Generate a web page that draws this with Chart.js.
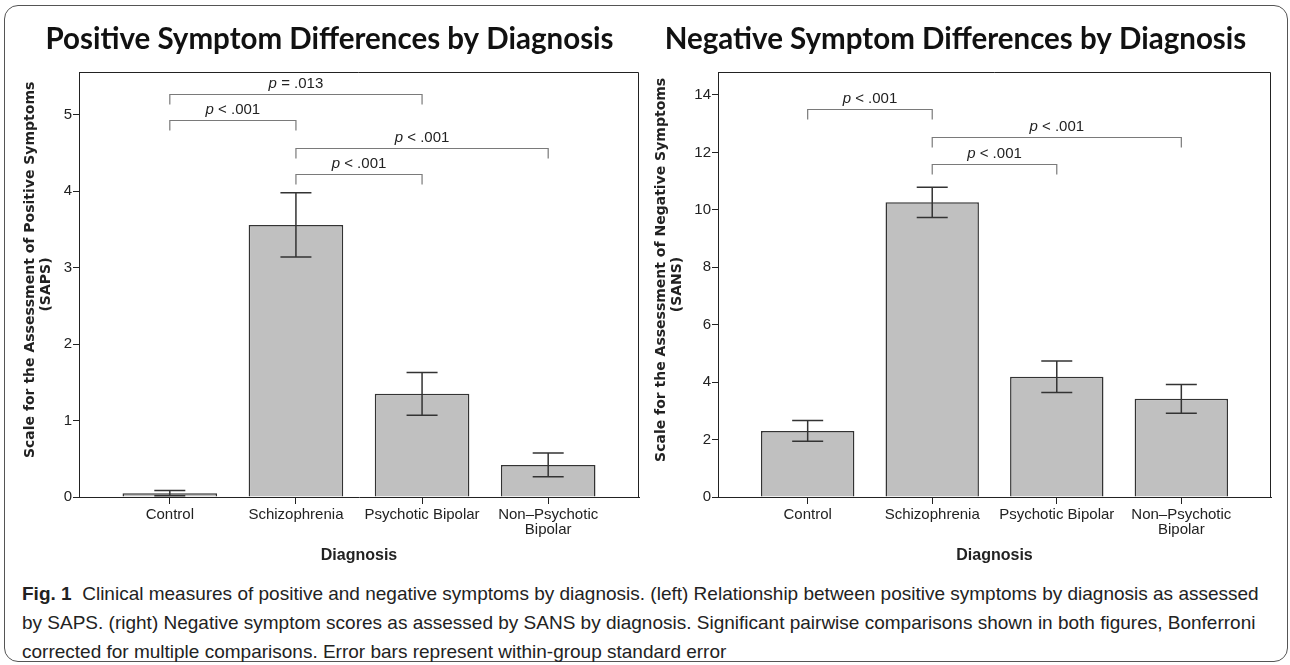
<!DOCTYPE html>
<html>
<head>
<meta charset="utf-8">
<script src="https://cdn.jsdelivr.net/npm/chart.js@4.4.1/dist/chart.umd.min.js"></script>
<style>
  html, body { margin: 0; padding: 0; background: #fff; }
  body { width: 1290px; height: 665px; position: relative; overflow: hidden; }
  .frame {
    position: absolute; left: 4px; top: 5px; width: 1284px; height: 657px;
    box-sizing: border-box; border: 1.5px solid #555; border-radius: 14px;
  }
  canvas { position: absolute; top: 0; }
  #posChart { left: 0; }
  #negChart { left: 640px; }
  .caption {
    position: absolute; left: 22px; top: 579px;
    font-family: "Liberation Sans", Arial, sans-serif;
    font-size: 19px; line-height: 29px; color: #222; white-space: nowrap;
  }
</style>
</head>
<body>
<div class="frame"></div>
<canvas id="posChart" width="645" height="569"></canvas>
<canvas id="negChart" width="640" height="569"></canvas>
<div class="caption">
  <b>Fig. 1</b>&nbsp; Clinical measures of positive and negative symptoms by diagnosis. (left) Relationship between positive symptoms by diagnosis as assessed<br>
  by SAPS. (right) Negative symptom scores as assessed by SANS by diagnosis. Significant pairwise comparisons shown in both figures, Bonferroni<br>
  corrected for multiple comparisons. Error bars represent within-group standard error
</div>

<script>
/* ================= DATA ================= */

const diagnoses = ["Control", "Schizophrenia", "Psychotic Bipolar", ["Non–Psychotic", "Bipolar"]];

// positive symptoms (SAPS): mean and standard error
const posMeans = [0.05, 3.56, 1.35, 0.42];
const posErr = [0.035, 0.42, 0.28, 0.155];
const posTicks = [0, 1, 2, 3, 4, 5];
const posMax = 5.56;

// negative symptoms (SANS): mean and standard error
const negMeans = [2.30, 10.26, 4.19, 3.42];
const negErr = [0.36, 0.53, 0.55, 0.50];
const negTicks = [0, 2, 4, 6, 8, 10, 12, 14];
const negMax = 14.8;

// pairwise comparison brackets
const posBracketFrom = [0, 0, 1, 1];
const posBracketTo = [2, 1, 3, 2];
const posBracketLevel = [5.27, 4.93, 4.57, 4.23];
const posBracketText = ["= .013", "< .001", "< .001", "< .001"];

const negBracketFrom = [0, 1, 1];
const negBracketTo = [1, 3, 2];
const negBracketLevel = [13.5, 12.55, 11.6];
const negBracketText = ["< .001", "< .001", "< .001"];

/* ================= STYLE ================= */

const tickFont = "'Liberation Sans', Arial, sans-serif";
const axisTitleFont = "'DejaVu Sans', sans-serif";
const ink = "#222";
const lead = "\u00a0".repeat(6); // nudges the long y title up a little, like the original

/* ================= EXTRAS PLUGIN (frame, error bars, brackets) ================= */

function makeExtras(means, errs, bFrom, bTo, bLevel, bText) {
    return {
        id: "extras",
        afterDatasetsDraw(chart) {
            const ctx = chart.ctx;
            const xs = chart.scales.x;
            const ys = chart.scales.y;
            const a = chart.chartArea;

            ctx.save();

            // top + right frame of the plot box
            ctx.strokeStyle = ink;
            ctx.lineWidth = 1;
            ctx.beginPath();
            ctx.moveTo(a.left, a.top + 0.5);
            ctx.lineTo(a.right - 0.5, a.top + 0.5);
            ctx.lineTo(a.right - 0.5, a.bottom);
            ctx.stroke();

            // error bars
            ctx.strokeStyle = "#333";
            ctx.lineWidth = 1.5;
            means.forEach((m, i) => {
                const px = xs.getPixelForValue(i);
                const top = ys.getPixelForValue(m + errs[i]);
                const bot = ys.getPixelForValue(Math.max(0, m - errs[i]));
                ctx.beginPath();
                ctx.moveTo(px, top);
                ctx.lineTo(px, bot);
                ctx.moveTo(px - 15.5, top);
                ctx.lineTo(px + 15.5, top);
                ctx.moveTo(px - 15.5, bot);
                ctx.lineTo(px + 15.5, bot);
                ctx.stroke();
            });

            // significance brackets
            bFrom.forEach((f, i) => {
                const xl = xs.getPixelForValue(f);
                const xr = xs.getPixelForValue(bTo[i]);
                const yl = Math.round(ys.getPixelForValue(bLevel[i])) + 0.5;

                ctx.strokeStyle = "#7a7a7a";
                ctx.lineWidth = 1.2;
                ctx.beginPath();
                ctx.moveTo(xl, yl + 10);
                ctx.lineTo(xl, yl);
                ctx.lineTo(xr, yl);
                ctx.lineTo(xr, yl + 10);
                ctx.stroke();

                const italic = "italic 15px " + tickFont;
                const plain = "15px " + tickFont;
                const rest = " " + bText[i];
                ctx.font = italic;
                const w1 = ctx.measureText("p").width;
                ctx.font = plain;
                const w2 = ctx.measureText(rest).width;
                const start = (xl + xr) / 2 - (w1 + w2) / 2;

                ctx.fillStyle = ink;
                ctx.textBaseline = "middle";
                ctx.textAlign = "left";
                ctx.font = italic;
                ctx.fillText("p", start, yl - 11);
                ctx.font = plain;
                ctx.fillText(rest, start + w1, yl - 11);
            });

            ctx.restore();
        }
    };
}

/* ================= CHART BUILDER ================= */

function buildChart(canvasId, cfg) {
    return new Chart(document.getElementById(canvasId), {
        type: "bar",
        data: {
            datasets: [{
                data: cfg.means.map((v, i) => ({ x: i, y: v })),
                backgroundColor: "#c0c0c0",
                borderColor: "#333",
                borderWidth: 1.5,
                barPercentage: 0.75,
                categoryPercentage: 1
            }]
        },
        options: {
            responsive: false,
            animation: false,
            devicePixelRatio: 1,
            layout: { padding: { top: 0, right: cfg.padRight, bottom: 0, left: cfg.padLeft } },
            plugins: {
                legend: { display: false },
                tooltip: { enabled: false },
                title: {
                    display: true,
                    text: cfg.title,
                    color: "#111",
                    font: { family: "Lato, 'Open Sans', sans-serif", size: 29.5, weight: "bold", lineHeight: 1.2 },
                    padding: { top: 22, bottom: 14.6 }
                }
            },
            scales: {
                x: {
                    type: "linear",
                    offset: false,
                    min: -0.72,
                    max: 3.72,
                    afterBuildTicks: s => { s.ticks = diagnoses.map((_, i) => ({ value: i })); },
                    afterFit: s => { s.height = 72; },
                    grid: { offset: false, drawOnChartArea: false, drawTicks: true, tickLength: 7, color: ink },
                    border: { display: true, color: ink, width: 1 },
                    ticks: {
                        callback: v => diagnoses[v],
                        autoSkip: false,
                        maxRotation: 0,
                        padding: 3,
                        color: ink,
                        font: { family: tickFont, size: 15, lineHeight: 1.03 }
                    },
                    title: {
                        display: true,
                        text: "Diagnosis",
                        color: ink,
                        font: { family: tickFont, size: 16, weight: "bold", lineHeight: 1.2 },
                        padding: { top: 0, bottom: 4 }
                    }
                },
                y: {
                    min: 0,
                    max: cfg.max,
                    afterBuildTicks: s => { s.ticks = cfg.ticks.map(v => ({ value: v })); },
                    afterFit: s => { s.width = cfg.axisWidth; },
                    grid: { drawOnChartArea: false, drawTicks: true, tickLength: 6, color: ink },
                    border: { display: true, color: ink, width: 1 },
                    ticks: {
                        padding: 1,
                        color: ink,
                        font: { family: tickFont, size: 15 }
                    },
                    title: {
                        display: true,
                        text: cfg.yTitle,
                        color: ink,
                        font: { family: axisTitleFont, size: 14, weight: "bold", lineHeight: 1.1 },
                        padding: { top: cfg.yTitlePad, bottom: 0 }
                    }
                }
            }
        },
        plugins: [makeExtras(cfg.means, cfg.errs, cfg.bFrom, cfg.bTo, cfg.bLevel, cfg.bText)]
    });
}

/* ================= INIT ================= */

buildChart("posChart", {
    title: "Positive Symptom Differences by Diagnosis",
    yTitle: [lead + "Scale for the Assessment of Positive Symptoms", "(SAPS)"],
    means: posMeans, errs: posErr, ticks: posTicks, max: posMax,
    bFrom: posBracketFrom, bTo: posBracketTo, bLevel: posBracketLevel, bText: posBracketText,
    axisWidth: 59, yTitlePad: 3, padLeft: 20, padRight: 6
});

buildChart("negChart", {
    title: "Negative Symptom Differences by Diagnosis",
    yTitle: [lead + "Scale for the Assessment of Negative Symptoms", "(SANS)"],
    means: negMeans, errs: negErr, ticks: negTicks, max: negMax,
    bFrom: negBracketFrom, bTo: negBracketTo, bLevel: negBracketLevel, bText: negBracketText,
    axisWidth: 78, yTitlePad: 14, padLeft: 0, padRight: 9
});
</script>
</body>
</html>
